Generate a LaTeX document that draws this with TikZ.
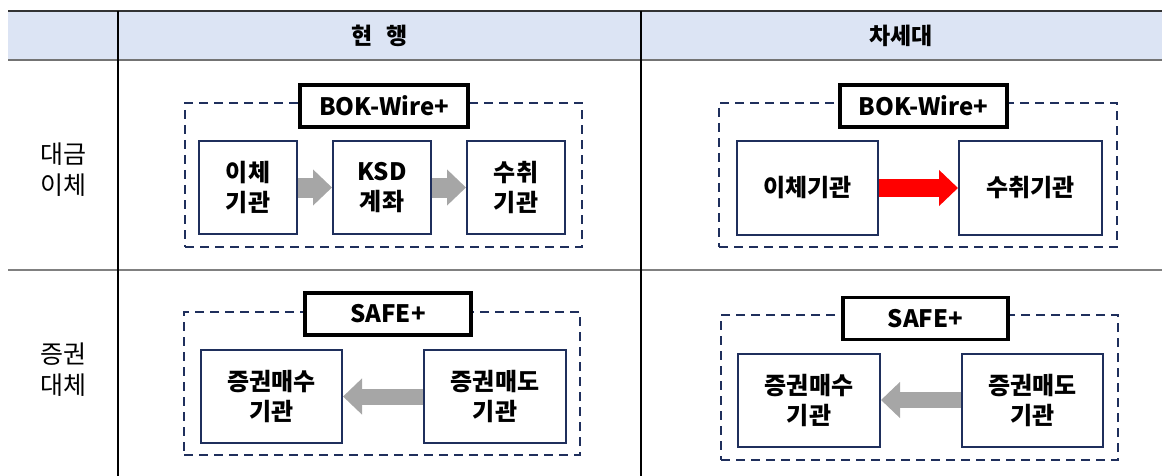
\documentclass[tikz,border=0pt]{standalone}
\usepackage{fontspec}
\setmainfont{Noto Sans CJK KR}
\usetikzlibrary{arrows.meta, positioning, calc}
\definecolor{headblue}{HTML}{DCE4F4}
\definecolor{navy}{HTML}{1F2F5C}
\definecolor{arrowgray}{HTML}{A6A6A6}

\begin{document}
\begin{tikzpicture}[x=1pt, y=-1pt,
    sysbox/.style={draw=navy, line width=2.2pt, dash pattern=on 9pt off 6pt, minimum width=#1},
    namebox/.style={draw=black, line width=3.2pt, fill=white, minimum height=42pt, inner sep=0pt, font=\fontsize{24}{28}\selectfont\bfseries},
    inbox/.style={draw=navy, line width=2pt, fill=white, minimum height=93pt, inner sep=0pt, align=center, font=\fontsize{24}{30}\selectfont\bfseries},
    grayarrow/.style={draw=arrowgray, line width=#1, -{Triangle[length=19pt, width=35pt]}},
    rowlabel/.style={align=center, font=\fontsize{25}{31}\selectfont},
    headtext/.style={font=\fontsize{23}{27}\selectfont\bfseries}]
      \useasboundingbox (0, 0) rectangle (1162, 476);

      % table frame
      \fill[headblue] (8, 11) rectangle (1162, 60);
      \draw[line width=2pt, black!80] (8, 11) -- (1162, 11);
      \draw[line width=2pt, black!55] (8, 60) -- (1162, 60);
      \draw[line width=2pt, black!50] (8, 270) -- (1162, 270);
      \draw[line width=1.5pt] (118, 11) -- (118, 476);
      \draw[line width=1.5pt] (641, 11) -- (641, 476);

      \node[headtext] (now) at (380, 36) {현\hspace{14pt}행};
      \node[headtext] (next) at (901, 36) {차세대};
      \node[rowlabel] (pay) at (63, 170) {대금\\이체};
      \node[rowlabel] (sec) at (63, 370) {증권\\대체};

      % current, payment
      \node[sysbox=397pt, minimum height=144pt] (wireA) at (383.5, 175) {};
      \node[namebox, minimum width=168pt] (bokA) at (384, 106) {BOK-Wire+};
      \node[inbox, minimum width=98pt] (sendA) at (248, 187.5) {이체\\기관};
      \node[inbox, minimum width=98pt] (ksdA) at (382, 187.5) {KSD\\계좌};
      \node[inbox, minimum width=98pt] (recvA) at (516, 187.5) {수취\\기관};
      \draw[grayarrow=20pt] (sendA) -- (ksdA);
      \draw[grayarrow=20pt] (ksdA) -- (recvA);

      % next, payment
      \node[sysbox=398pt, minimum height=144pt] (wireB) at (918, 175) {};
      \node[namebox, minimum width=167pt] (bokB) at (923.5, 106) {BOK-Wire+};
      \node[inbox, minimum width=141pt] (sendB) at (807.5, 188) {이체기관};
      \node[inbox, minimum width=143pt] (recvB) at (1030.5, 188) {수취기관};
      \draw[red, line width=18pt, -{Triangle[length=19pt, width=35pt]}] (sendB) -- (recvB);

      % current, securities
      \node[sysbox=396pt, minimum height=143pt] (safeA) at (382, 383.5) {};
      \node[namebox, minimum width=166pt] (safenA) at (388, 314) {SAFE+};
      \node[inbox, minimum width=141pt] (buyA) at (271.5, 396.5) {증권매수\\기관};
      \node[inbox, minimum width=142pt] (sellA) at (495, 396.5) {증권매도\\기관};
      \draw[grayarrow=16pt] (sellA) -- (buyA);

      % next, securities
      \node[sysbox=397pt, minimum height=145pt] (safeB) at (919.5, 387.5) {};
      \node[namebox, minimum width=165pt] (safenB) at (925.5, 318.5) {SAFE+};
      \node[inbox, minimum width=142pt] (buyB) at (809, 400) {증권매수\\기관};
      \node[inbox, minimum width=141pt] (sellB) at (1032.5, 400) {증권매도\\기관};
      \draw[grayarrow=16pt] (sellB) -- (buyB);
    \end{tikzpicture}
\end{document}
